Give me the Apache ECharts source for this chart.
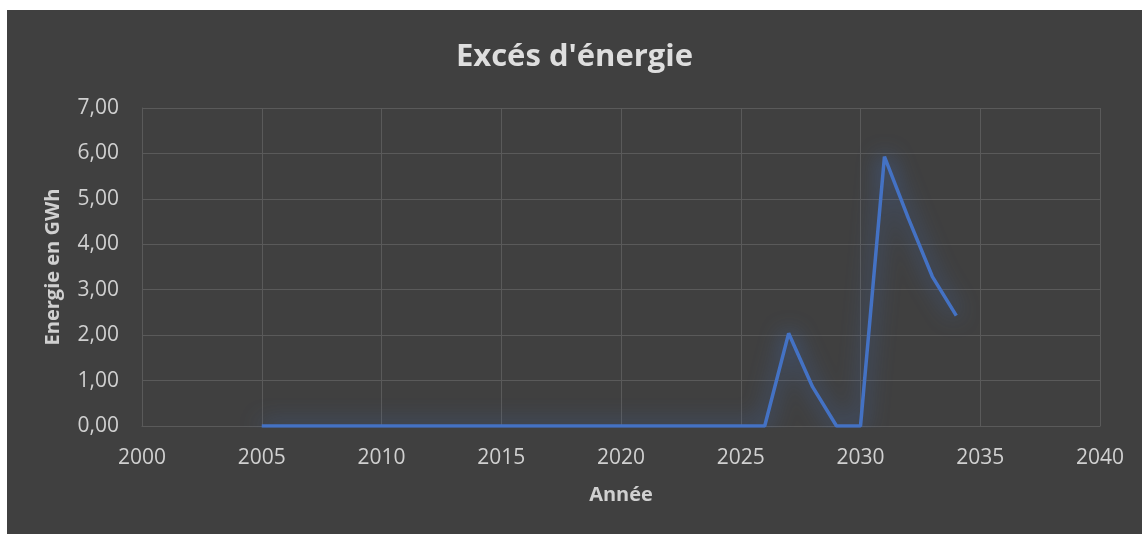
<!DOCTYPE html>
<html>
<head>
<meta charset="utf-8">
<script src="https://cdn.jsdelivr.net/npm/echarts@6/dist/echarts.min.js"></script>
<style>
  html, body { margin: 0; padding: 0; background: #ffffff; }
  #chart { position: absolute; left: 7px; top: 10px; width: 1135px; height: 524px; }
</style>
</head>
<body>
<div id="chart"></div>
<script>
  // data
  const years = [2005, 2006, 2007, 2008, 2009, 2010, 2011, 2012, 2013, 2014, 2015, 2016, 2017, 2018, 2019,
                 2020, 2021, 2022, 2023, 2024, 2025, 2026, 2027, 2028, 2029, 2030, 2031, 2032, 2033, 2034];
  const excess = [0, 0, 0, 0, 0, 0, 0, 0, 0, 0, 0, 0, 0, 0, 0,
                  0, 0, 0, 0, 0, 0, 0, 2.04, 0.86, 0, 0, 5.93, 4.57, 3.29, 2.43];

  const chart = echarts.init(document.getElementById('chart'));
  const font = 'Open Sans, Noto Sans, sans-serif';
  chart.setOption({
    backgroundColor: '#404040',
    animation: false,
    title: {
      text: "Excés d'énergie",
      left: 'center', top: 27,
      textStyle: { color: '#dedede', fontSize: 31, fontWeight: 'bold', fontFamily: font }
    },
    grid: { left: 135, right: 42, top: 98, bottom: 108 },
    xAxis: {
      type: 'value', min: 2000, max: 2040, interval: 5,
      name: 'Année', nameLocation: 'middle', nameGap: 59,
      nameTextStyle: { color: '#d0d0d0', fontSize: 20, fontWeight: 'bold', fontFamily: font },
      axisLine: { show: true, lineStyle: { color: '#5a5a5a' } },
      axisTick: { show: false },
      axisLabel: { color: '#d0d0d0', fontSize: 21, margin: 22, fontFamily: font, formatter: v => String(v) },
      splitLine: { show: true, lineStyle: { color: '#5a5a5a', width: 1 } }
    },
    yAxis: {
      type: 'value', min: 0, max: 7, interval: 1,
      name: 'Energie en GWh', nameLocation: 'middle', nameGap: 79, nameRotate: 90,
      nameTextStyle: { color: '#d0d0d0', fontSize: 20, fontWeight: 'bold', fontFamily: font },
      axisLine: { show: true, lineStyle: { color: '#5a5a5a' } },
      axisTick: { show: false },
      axisLabel: {
        color: '#d0d0d0', fontSize: 21, margin: 23, fontFamily: font,
        formatter: v => v.toFixed(2).replace('.', ',')
      },
      splitLine: { show: true, lineStyle: { color: '#5a5a5a', width: 1 } }
    },
    series: [{
      type: 'line',
      data: years.map((y, i) => [y, excess[i]]),
      showSymbol: false,
      lineStyle: {
        color: '#4472C4', width: 3.5,
        shadowColor: 'rgba(68,114,196,0.95)', shadowBlur: 22
      }
    }]
  });
</script>
</body>
</html>
